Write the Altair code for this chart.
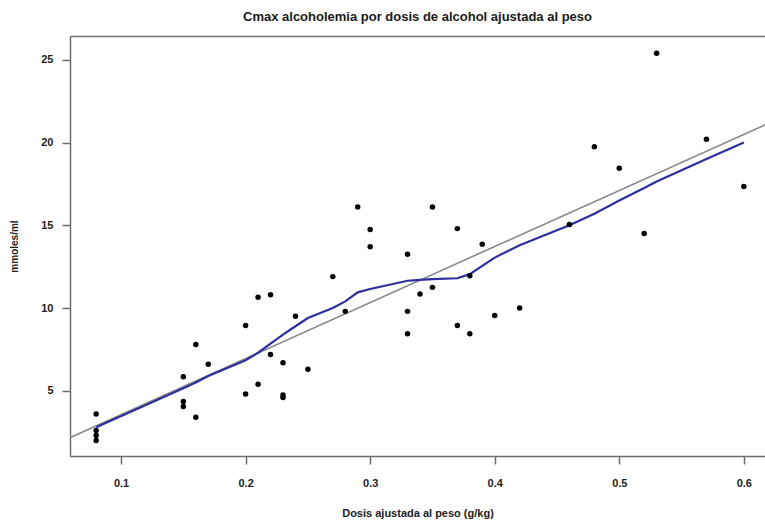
import altair as alt
import pandas as pd

# Weight-adjusted alcohol dose (g/kg) and peak blood alcohol (mmoles/ml)
dose = [0.08, 0.08, 0.08, 0.08,
        0.15, 0.15, 0.15, 0.16, 0.16, 0.17,
        0.20, 0.20, 0.21, 0.21, 0.22, 0.22,
        0.23, 0.23, 0.23, 0.24, 0.25, 0.27, 0.28, 0.29,
        0.30, 0.30, 0.33, 0.33, 0.33, 0.34, 0.35, 0.35,
        0.37, 0.37, 0.38, 0.38, 0.39, 0.40, 0.42,
        0.46, 0.48, 0.50, 0.52, 0.53, 0.57, 0.60]
cmax = [3.6, 2.6, 2.3, 2.0,
        5.85, 4.35, 4.05, 7.8, 3.4, 6.6,
        8.95, 4.8, 10.65, 5.4, 10.8, 7.2,
        6.7, 4.75, 4.6, 9.5, 6.3, 11.9, 9.8, 16.1,
        14.75, 13.7, 13.25, 9.8, 8.45, 10.85, 16.1, 11.25,
        14.8, 8.95, 11.95, 8.45, 13.85, 9.55, 10.0,
        15.05, 19.75, 18.45, 14.5, 25.4, 20.2, 17.35]

# Smoothed trend (lowess) evaluated at the observed doses
smooth_dose = [0.08, 0.15, 0.16, 0.17, 0.20, 0.21, 0.22, 0.23, 0.24, 0.25,
               0.27, 0.28, 0.29, 0.30, 0.33, 0.34, 0.35, 0.37, 0.38, 0.39,
               0.40, 0.42, 0.46, 0.48, 0.50, 0.52, 0.53, 0.57, 0.60]
smooth_cmax = [2.8, 5.15, 5.5, 5.9, 6.85, 7.3, 7.85, 8.4, 8.9, 9.4,
               10.0, 10.4, 10.95, 11.15, 11.65, 11.7, 11.75, 11.8, 12.05, 12.55,
               13.05, 13.8, 15.0, 15.7, 16.5, 17.25, 17.65, 19.0, 20.0]

x_ticks = [0.1, 0.2, 0.3, 0.4, 0.5, 0.6]
y_ticks = [5, 10, 15, 20, 25]
X_DOMAIN = [0.059, 0.617]
Y_DOMAIN = [1.06, 26.44]

points_df = pd.DataFrame({"dose": dose, "cmax": cmax})
smooth_df = pd.DataFrame({"dose": smooth_dose, "cmax": smooth_cmax})

FONT = "Liberation Sans"
FRAME = "#6e6e6e"

x_scale = alt.Scale(domain=X_DOMAIN, nice=False, zero=False)
y_scale = alt.Scale(domain=Y_DOMAIN, nice=False, zero=False)

x_axis = alt.Axis(
    title="Dosis ajustada al peso (g/kg)", values=x_ticks, format=".1f",
    grid=False, domainColor=FRAME, domainWidth=1.5,
    tickColor=FRAME, tickWidth=1.5, tickSize=8,
    labelFont=FONT, labelFontSize=11, labelFontWeight="bold", labelColor="#222222",
    labelPadding=13, titleFont=FONT, titleFontSize=11, titleFontWeight="bold",
    titleColor="#222222", titlePadding=19,
)
y_axis = alt.Axis(
    title="mmoles/ml", values=y_ticks, format="d",
    grid=False, domainColor=FRAME, domainWidth=1.5,
    tickColor=FRAME, tickWidth=1.5, tickSize=8,
    labelFont=FONT, labelFontSize=11, labelFontWeight="bold", labelColor="#222222",
    labelPadding=9, titleFont=FONT, titleFontSize=10, titleFontWeight="bold",
    titleColor="#222222", titlePadding=21,
)

points = alt.Chart(points_df).mark_circle(size=30, color="black", opacity=1).encode(
    x=alt.X("dose:Q", scale=x_scale, axis=x_axis),
    y=alt.Y("cmax:Q", scale=y_scale, axis=y_axis),
)

# Least-squares line across the full plotting range
fit = alt.Chart(points_df).transform_regression(
    "dose", "cmax", extent=X_DOMAIN
).mark_line(color="#8a8a8a", strokeWidth=1.6, clip=True).encode(
    x=alt.X("dose:Q", scale=x_scale),
    y=alt.Y("cmax:Q", scale=y_scale),
)

smooth = alt.Chart(smooth_df).mark_line(color="#2e2e9e", strokeWidth=2.2).encode(
    x=alt.X("dose:Q", scale=x_scale),
    y=alt.Y("cmax:Q", scale=y_scale),
)

# Top edge of the plot box, drawn as a bare axis
top_edge = alt.Chart(points_df).mark_point(opacity=0).encode(
    x=alt.X("dose:Q", scale=x_scale,
            axis=alt.Axis(orient="top", title="", labels=False, ticks=False,
                          grid=False, domainColor=FRAME, domainWidth=1.5)),
)

chart = alt.layer(
    alt.layer(fit, smooth, points),
    top_edge,
).resolve_axis(x="independent").properties(
    width=695,
    height=420,
    padding={"left": 70, "top": 36, "right": 0, "bottom": 65},
    autosize=alt.AutoSizeParams(type="none"),
    title=alt.TitleParams(
        "Cmax alcoholemia por dosis de alcohol ajustada al peso",
        font=FONT, fontSize=13, fontWeight="bold", color="#1a1a1a",
        anchor="middle", offset=12,
    ),
).configure_view(stroke="transparent").configure(background="white")

chart.save("out.html", embed_options={"renderer": "svg", "actions": False})
